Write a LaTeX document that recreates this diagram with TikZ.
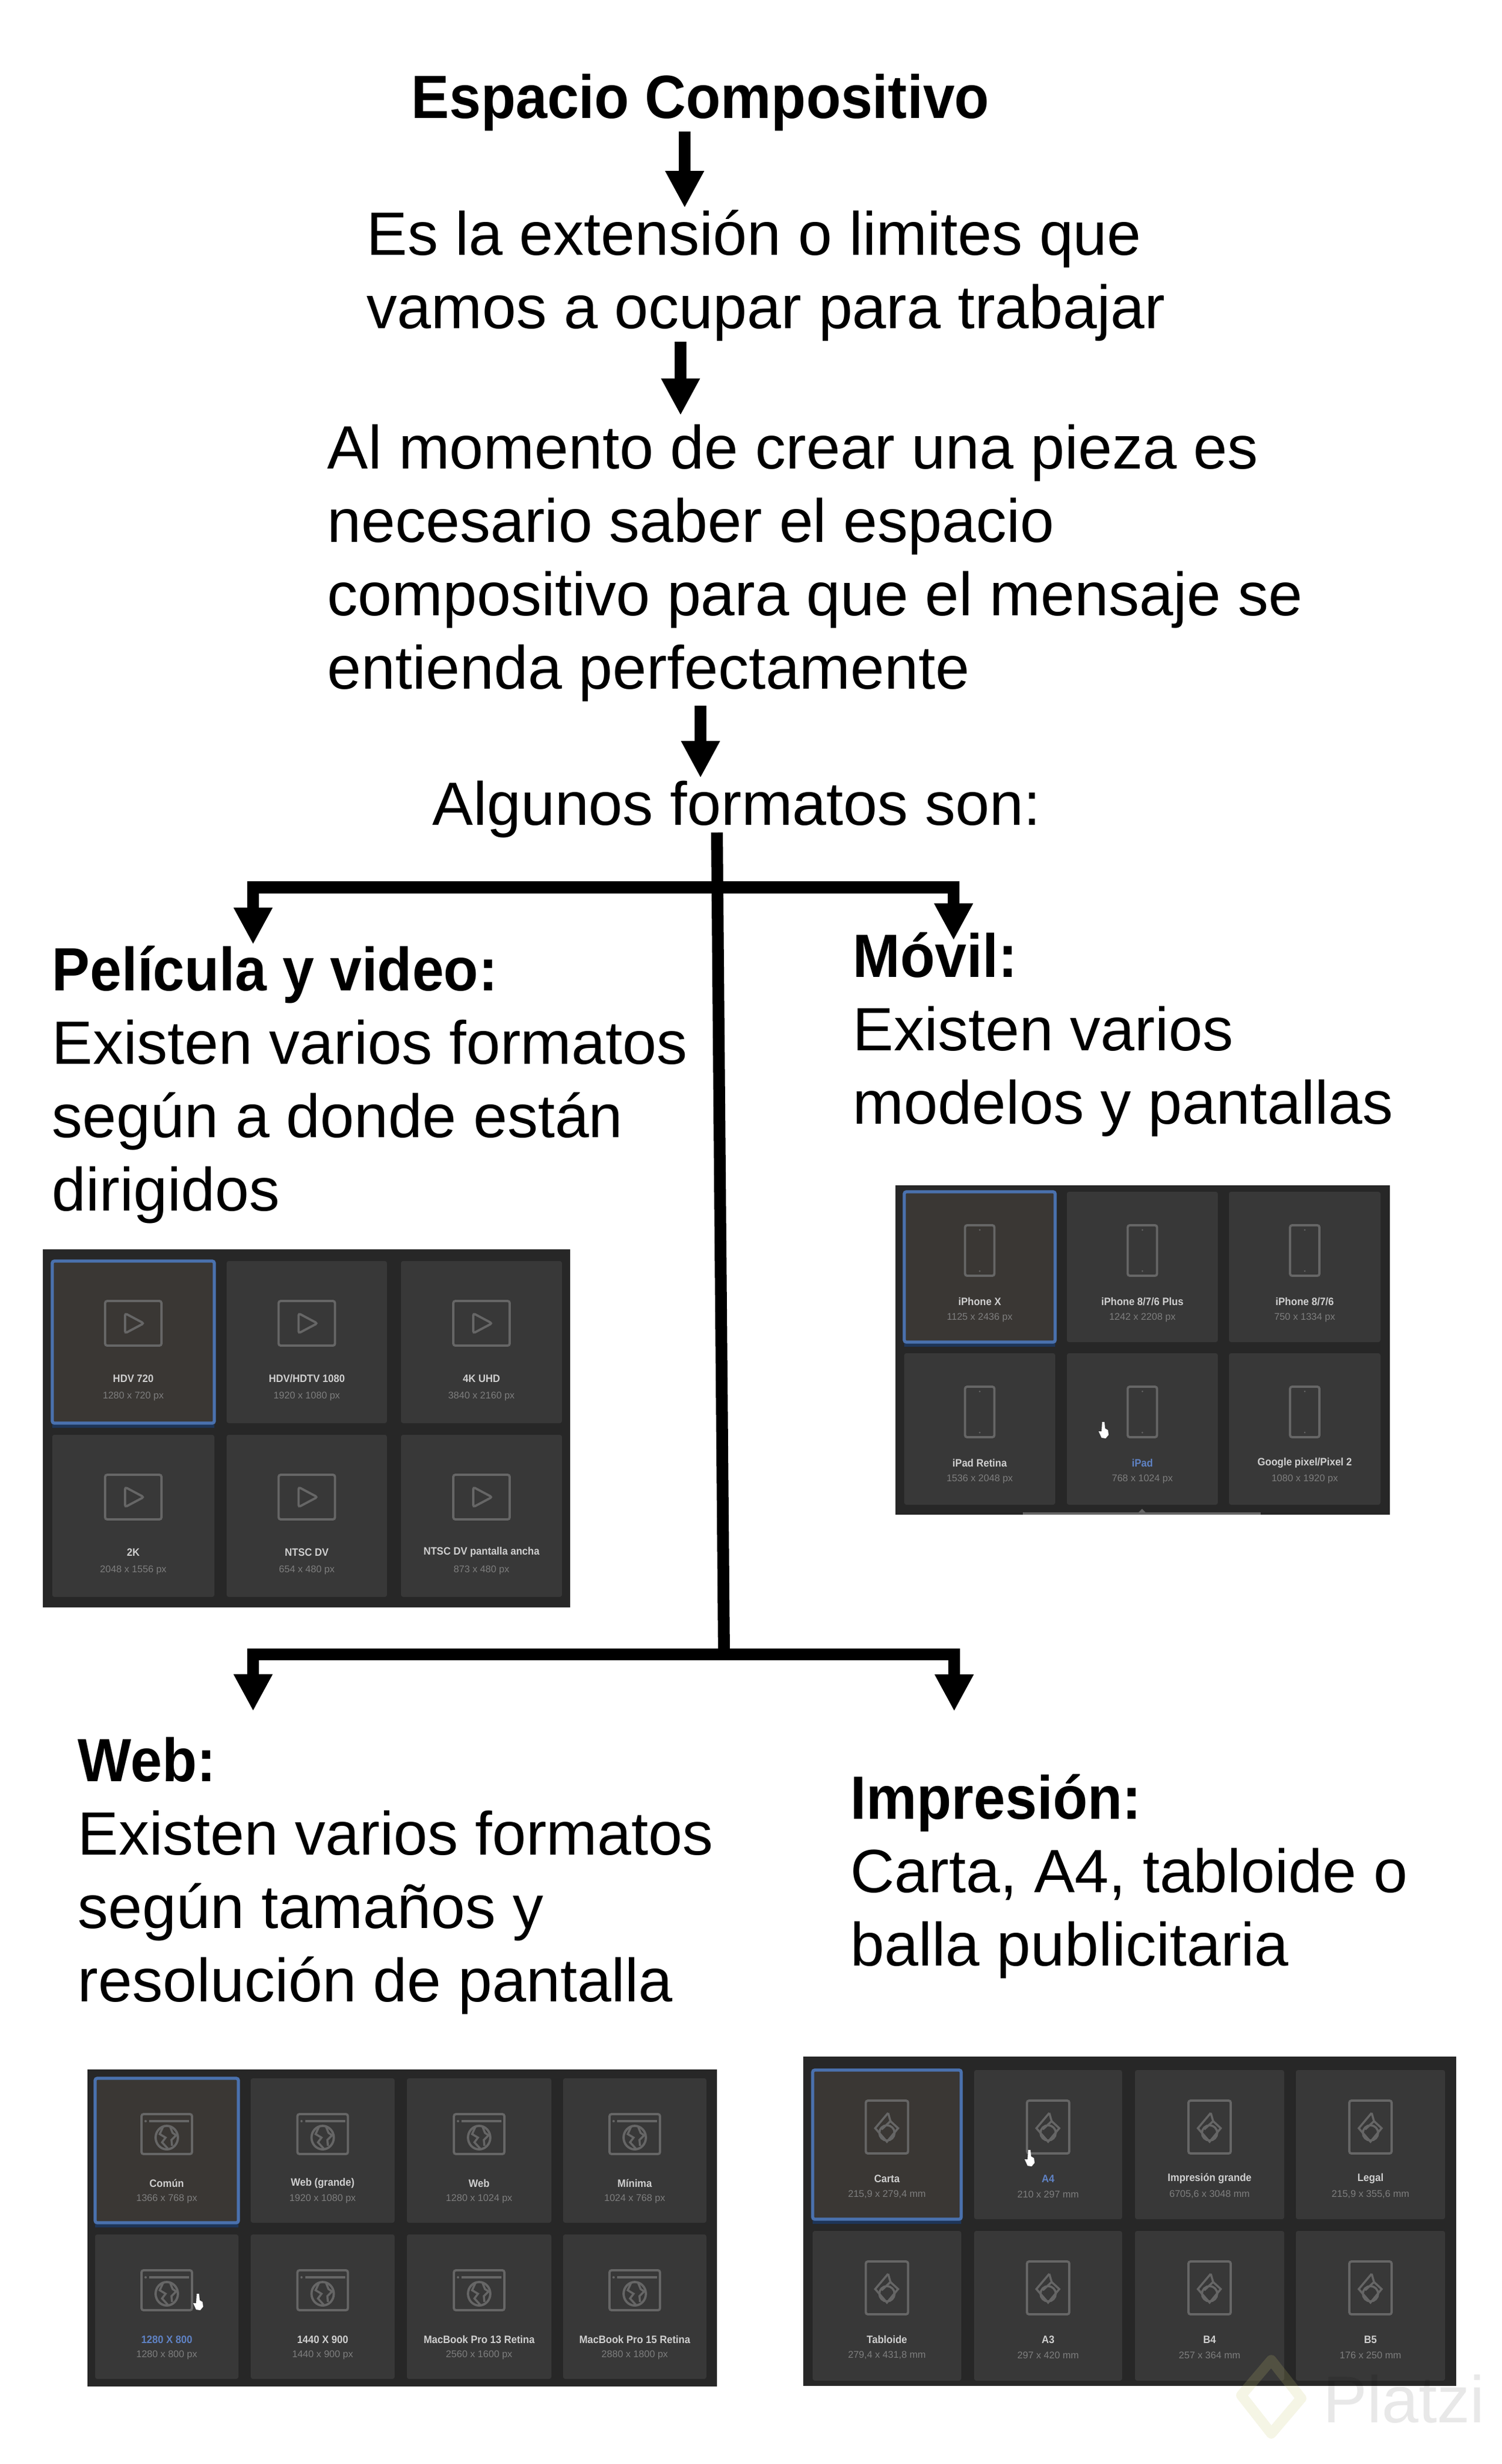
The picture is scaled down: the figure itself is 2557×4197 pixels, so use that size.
\documentclass[tikz,border=0pt]{standalone}
\usepackage{fontspec}
\setmainfont[BoldFeatures={FakeStretch=0.93}]{Liberation Sans}
\usetikzlibrary{arrows.meta,calc}
\definecolor{panelbg}{HTML}{272727}
\definecolor{cellbg}{HTML}{383838}
\definecolor{selbg}{HTML}{3A3734}
\definecolor{selblue}{HTML}{4A71AE}
\definecolor{seldark}{HTML}{1E3558}
\definecolor{iconcol}{HTML}{666666}
\definecolor{titlecol}{HTML}{CFCFCF}
\definecolor{subcol}{HTML}{7E7E7E}
\definecolor{hovercol}{HTML}{5F82C4}
\tikzset{
  body/.style={anchor=north west,inner sep=0pt,align=left,text=black,
    font=\fontsize{29.6}{35.5}\selectfont},
  thickarrow/.style={draw=black,line width=5.7pt,line join=miter,
    -{Triangle[length=17.9pt,width=17.6pt]}},
  trunkline/.style={draw=black,line width=5.7pt},
  celltitle/.style={inner sep=0pt,font=\fontsize{5.2}{6}\selectfont\bfseries},
  cellsub/.style={inner sep=0pt,text=subcol,font=\fontsize{4.7}{6}\selectfont},
  iconline/.style={draw=iconcol,line width=1.1pt,rounded corners=1pt},
  playicon/.pic={
    \draw[iconline] (-48,-38) rectangle (48,38);
    \draw[iconline] (-14,-17) -- (18,0) -- (-14,17) -- cycle;
  },
  phoneicon/.pic={
    \draw[iconline] (-25,-43) rectangle (25,43);
    \fill[iconcol] (0,-35) circle (1.5);
    \fill[iconcol] (0,35) circle (1.5);
  },
  webicon/.pic={
    \draw[iconline] (-43,-34) rectangle (43,34);
    \draw[iconcol,line width=1.1pt] (-30,-22) -- (38,-22);
    \fill[iconcol] (-36,-22) circle (2);
    \draw[iconcol,line width=1.1pt] (0,6) ellipse (19 and 20);
    \draw[iconcol,line width=1pt] (-6,-13) -- (-12,0) -- (-2,6) -- (-8,14) -- (2,25);
    \draw[iconcol,line width=1pt] (6,-12) -- (10,-2) -- (16,2) -- (8,10) -- (9,20);
  },
  docicon/.pic={
    \draw[iconline] (-36,-45) rectangle (36,45);
    \draw[iconcol,line width=1pt] (2,-24) -- (-20,2) -- (0,25) -- (19,2) -- (6,-10);
    \draw[iconcol,line width=1pt] (2,-24) -- (6,-10) -- (-9,4);
    \draw[iconcol,line width=1pt] (0,10) circle (13);
  },
  handcursor/.pic={
    \fill[white] (-2,-14) -- (2,-14) -- (3,-3) -- (8,0) -- (9,8) -- (4,14) -- (-3,13) -- (-8,2) -- (-3,2) -- cycle;
  }
}
\def\cfill{cellbg}
% [title colour]{name}{left}{top}{right}{bottom}{icon}{title}{sub}
\newcommand{\fmtcell}[9][titlecol]{%
  \fill[\cfill,rounded corners=1pt] (#3,#4) rectangle (#5,#6);
  \pic at ({(#3+#5)/2},{#4+\iconoff}) {#7};
  \node[celltitle,text=#1] (#2t) at ({(#3+#5)/2},{#4+\titleoff}) {#8};
  \node[cellsub] (#2s) at ({(#3+#5)/2},{#4+\suboff}) {#9};
}
\newcommand{\selframe}[4]{%
  \draw[seldark,line width=1.6pt] (#1,#4+5) -- (#3,#4+5);
  \draw[selblue,line width=1.5pt,rounded corners=1pt] (#1,#2) rectangle (#3,#4);
}
\begin{document}
\begin{tikzpicture}[x=0.01cm,y=-0.01cm]
\useasboundingbox (0,0) rectangle (2557,4197);
\fill[white] (0,0) rectangle (2557,4197);
\def\firstline{\rule{0pt}{22.76pt}}

% texts
\node[body,font=\fontsize{29.6}{35.5}\selectfont\bfseries] (titulo) at (700,121) {\firstline Espacio Compositivo};
\node[body] (defin) at (624,354) {\firstline Es la extensión o limites que\\vamos a ocupar para trabajar};
\node[body] (pieza) at (557,718) {\firstline Al momento de crear una pieza es\\necesario saber el espacio\\compositivo para que el mensaje se\\entienda perfectamente};
\node[body] (algunos) at (736,1325) {\firstline Algunos formatos son:};
\node[body] (peli) at (88,1607) {\firstline\textbf{Película y video:}\\Existen varios formatos\\según a donde están\\dirigidos};
\node[body] (movil) at (1452,1584) {\firstline\textbf{Móvil:}\\Existen varios\\modelos y pantallas};
\node[body] (web) at (132,2954) {\firstline\textbf{Web:}\\Existen varios formatos\\según tamaños y\\resolución de pantalla};
\node[body] (impre) at (1448,3018) {\firstline\textbf{Impresión:}\\Carta, A4, tabloide o\\balla publicitaria};

% connectors
\coordinate (a1) at (1166,0);
\coordinate (a2) at (1159,0);
\coordinate (a3) at (1193,0);
\coordinate (t1) at (1221,1418);
\coordinate (j1) at (1223,1511.5);
\coordinate (j2) at (1233,2817.5);
\coordinate (ul) at (431,0);
\coordinate (ur) at (1624,0);
\coordinate (ll) at (431,0);
\coordinate (lr) at (1625,0);
\draw[thickarrow] (titulo.south -| a1) -- (defin.north -| a1);
\draw[thickarrow,shorten >=3pt] (defin.south -| a2) -- (pieza.north -| a2);
\draw[thickarrow,shorten <=1.7pt] (pieza.south -| a3) -- (algunos.north -| a3);
\draw[trunkline] (t1) -- (j2);
\draw[thickarrow,shorten >=-0.5pt] (j1) -| (peli.north -| ul);
\draw[thickarrow,shorten >=-5pt] (j1) -| (movil.north -| ur);
\draw[thickarrow,shorten >=11.2pt] (j2) -| (web.north -| ll);
\draw[thickarrow,shorten >=29.3pt] (j2) -| (impre.north -| lr);

% film panel
\fill[panelbg] (73,2128) rectangle (971,2738);
\def\iconoff{106}\def\titleoff{200}\def\suboff{230}
\def\cfill{selbg}
\fmtcell{fa}{89}{2148}{365}{2424}{playicon}{HDV 720}{1280 x 720 px}
\def\cfill{cellbg}
\fmtcell{fb}{386}{2148}{659}{2424}{playicon}{HDV/HDTV 1080}{1920 x 1080 px}
\fmtcell{fc}{683}{2148}{957}{2424}{playicon}{4K UHD}{3840 x 2160 px}
\fmtcell{fd}{89}{2444}{365}{2720}{playicon}{2K}{2048 x 1556 px}
\fmtcell{fe}{386}{2444}{659}{2720}{playicon}{NTSC DV}{654 x 480 px}
\fmtcell{ff}{683}{2444}{957}{2720}{playicon}{NTSC DV pantalla ancha}{873 x 480 px}
\selframe{89}{2148}{365}{2424}

% mobile panel
\fill[panelbg] (1525,2019) rectangle (2367,2580);
\def\iconoff{100}\def\titleoff{187}\def\suboff{214}
\def\cfill{selbg}
\fmtcell{ma}{1540}{2030}{1797}{2286}{phoneicon}{iPhone X}{1125 x 2436 px}
\def\cfill{cellbg}
\fmtcell{mb}{1817}{2030}{2074}{2286}{phoneicon}{iPhone 8/7/6 Plus}{1242 x 2208 px}
\fmtcell{mc}{2093}{2030}{2351}{2286}{phoneicon}{iPhone 8/7/6}{750 x 1334 px}
\fmtcell{md}{1540}{2305}{1797}{2563}{phoneicon}{iPad Retina}{1536 x 2048 px}
\fmtcell[hovercol]{me}{1817}{2305}{2074}{2563}{phoneicon}{iPad}{768 x 1024 px}
\fmtcell{mf}{2093}{2305}{2351}{2563}{phoneicon}{Google pixel/Pixel 2}{1080 x 1920 px}
\selframe{1540}{2030}{1797}{2286}
\fill[iconcol] (1742,2576) rectangle (2147,2580);
\fill[iconcol] (1939,2576) -- (1945,2570) -- (1951,2576) -- cycle;
\pic at (1879,2436) {handcursor};

% web panel
\fill[panelbg] (149,3525) rectangle (1221,4065);
\def\iconoff{95}\def\titleoff{179}\def\suboff{205}
\def\cfill{selbg}
\fmtcell{wa}{162}{3540}{406}{3786}{webicon}{Común}{1366 x 768 px}
\def\cfill{cellbg}
\fmtcell{wb}{427}{3540}{672}{3786}{webicon}{Web (grande)}{1920 x 1080 px}
\fmtcell{wc}{693}{3540}{939}{3786}{webicon}{Web}{1280 x 1024 px}
\fmtcell{wd}{959}{3540}{1203}{3786}{webicon}{Mínima}{1024 x 768 px}
\fmtcell[hovercol]{we}{162}{3806}{406}{4052}{webicon}{1280 X 800}{1280 x 800 px}
\fmtcell{wf}{427}{3806}{672}{4052}{webicon}{1440 X 900}{1440 x 900 px}
\fmtcell{wg}{693}{3806}{939}{4052}{webicon}{MacBook Pro 13 Retina}{2560 x 1600 px}
\fmtcell{wh}{959}{3806}{1203}{4052}{webicon}{MacBook Pro 15 Retina}{2880 x 1800 px}
\selframe{162}{3540}{406}{3786}
\pic at (337,3921) {handcursor};

% print panel
\fill[panelbg] (1368,3503) rectangle (2480,4064);
\def\iconoff{97}\def\titleoff{185}\def\suboff{212}
\def\cfill{selbg}
\fmtcell{pa}{1384}{3526}{1637}{3780}{docicon}{Carta}{215,9 x 279,4 mm}
\def\cfill{cellbg}
\fmtcell[hovercol]{pb}{1659}{3526}{1911}{3780}{docicon}{A4}{210 x 297 mm}
\fmtcell{pc}{1933}{3526}{2187}{3780}{docicon}{Impresión grande}{6705,6 x 3048 mm}
\fmtcell{pd}{2207}{3526}{2461}{3780}{docicon}{Legal}{215,9 x 355,6 mm}
\fmtcell{pe}{1384}{3800}{1637}{4055}{docicon}{Tabloide}{279,4 x 431,8 mm}
\fmtcell{pf}{1659}{3800}{1911}{4055}{docicon}{A3}{297 x 420 mm}
\fmtcell{pg}{1933}{3800}{2187}{4055}{docicon}{B4}{257 x 364 mm}
\fmtcell{ph}{2207}{3800}{2461}{4055}{docicon}{B5}{176 x 250 mm}
\selframe{1384}{3526}{1637}{3780}
\pic at (1753,3676) {handcursor};

% watermark
\draw[olive!45!white,opacity=.18,line width=5pt,line join=round]
  (2165,4020) -- (2216,4085) -- (2165,4145) -- (2114,4080) -- cycle;
\node[anchor=base west,inner sep=0pt,text=black,opacity=.09,
  font=\fontsize{32}{36}\selectfont] (marca) at (2253,4126) {Platzi};
\end{tikzpicture}
\end{document}
